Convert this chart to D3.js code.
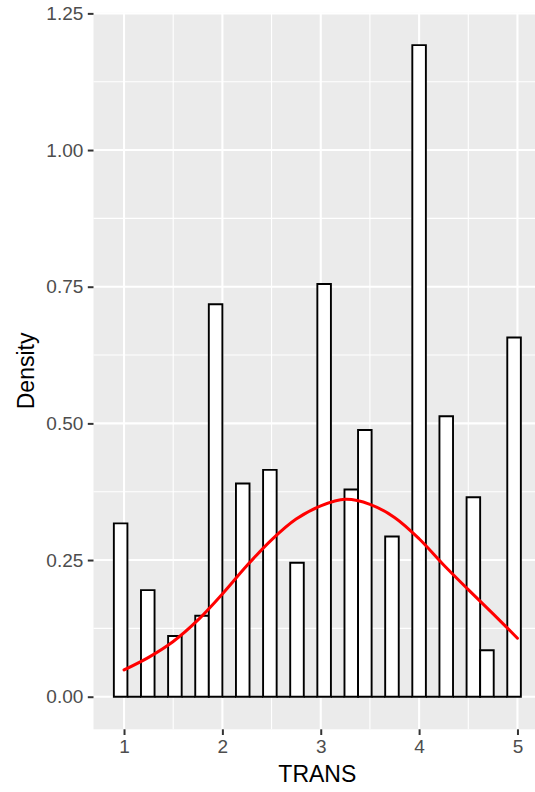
<!DOCTYPE html>
<html>
<head>
<meta charset="utf-8">
<script src="https://cdn.jsdelivr.net/npm/d3@7"></script>
<style>
  html, body { margin: 0; padding: 0; background: #ffffff; }
  svg { display: block; }
  text { font-family: "Liberation Sans", Arial, sans-serif; }
</style>
</head>
<body>
<svg id="chart" width="535" height="792"></svg>
<script>
// Histogram of TRANS (density scale, 30 bins over the data range 1–5)
const dataRange = [1, 5];
const binCount = 30;
const binDensity = [
  0.317, 0, 0.195, 0, 0.111, 0, 0.148, 0.718, 0, 0.390,
  0, 0.415, 0, 0.245, 0, 0.755, 0, 0.379, 0.488, 0,
  0.293, 0, 1.192, 0, 0.513, 0, 0.365, 0.085, 0, 0.657
];

// Kernel density estimate of TRANS
const kdeX = [1.00, 1.25, 1.50, 1.75, 2.00, 2.25, 2.50, 2.75, 3.00, 3.25, 3.50, 3.75, 4.00, 4.25, 4.50, 4.75, 5.00];
const kdeY = [0.049, 0.072, 0.101, 0.140, 0.188, 0.240, 0.287, 0.325, 0.349, 0.361, 0.352, 0.328, 0.289, 0.241, 0.196, 0.152, 0.107];

const xTicks = [1, 2, 3, 4, 5];
const xMinor = [1.5, 2.5, 3.5, 4.5];
const yTicks = [0, 0.25, 0.5, 0.75, 1.0, 1.25];
const yMinor = [0.125, 0.375, 0.625, 0.875, 1.125];

// ggplot-style bin breaks: width = range/(bins-1), boundary at width/2
const binWidth = (dataRange[1] - dataRange[0]) / (binCount - 1);
const boundary = binWidth / 2;
const origin = boundary + Math.floor((dataRange[0] - boundary) / binWidth) * binWidth;
const bins = binDensity.map((d, i) => ({
  x0: origin + i * binWidth,
  x1: origin + (i + 1) * binWidth,
  density: d
}));

const svg = d3.select("#chart");
const panel = { left: 93.5, top: 12.5, right: 541.2, bottom: 729.3 };

// 5% expansion on both axes
const xMin = bins[0].x0, xMax = bins[bins.length - 1].x1;
const xPad = (xMax - xMin) * 0.05;
const yMax = d3.max(binDensity);
const yPad = yMax * 0.05;

const x = d3.scaleLinear().domain([xMin - xPad, xMax + xPad]).range([panel.left, panel.right]);
const y = d3.scaleLinear().domain([-yPad, yMax + yPad]).range([panel.bottom, panel.top]);

// Panel background
svg.append("rect")
  .attr("x", panel.left).attr("y", panel.top)
  .attr("width", panel.right - panel.left).attr("height", panel.bottom - panel.top)
  .attr("fill", "#EBEBEB");

const grid = svg.append("g").attr("stroke", "#FFFFFF").attr("fill", "none");
grid.selectAll(".ymin").data(yMinor).join("line")
  .attr("x1", panel.left).attr("x2", panel.right)
  .attr("y1", d => y(d)).attr("y2", d => y(d)).attr("stroke-width", 1.1);
grid.selectAll(".xmin").data(xMinor).join("line")
  .attr("y1", panel.top).attr("y2", panel.bottom)
  .attr("x1", d => x(d)).attr("x2", d => x(d)).attr("stroke-width", 1.1);
grid.selectAll(".ymaj").data(yTicks).join("line")
  .attr("x1", panel.left).attr("x2", panel.right)
  .attr("y1", d => y(d)).attr("y2", d => y(d)).attr("stroke-width", 2.1);
grid.selectAll(".xmaj").data(xTicks).join("line")
  .attr("y1", panel.top).attr("y2", panel.bottom)
  .attr("x1", d => x(d)).attr("x2", d => x(d)).attr("stroke-width", 2.1);

// Histogram bars as closed paths so empty bins still show their outline
svg.append("g").selectAll("path").data(bins).join("path")
  .attr("d", d => {
    const l = x(d.x0), r = x(d.x1), b = y(0), t = y(d.density);
    return `M${l},${b}L${r},${b}L${r},${t}L${l},${t}Z`;
  })
  .attr("fill", "#FFFFFF")
  .attr("stroke", "#000000")
  .attr("stroke-width", 1.9);

// Density curve
const line = d3.line()
  .x((d, i) => x(kdeX[i]))
  .y(d => y(d))
  .curve(d3.curveCatmullRom);
svg.append("path")
  .datum(kdeY)
  .attr("d", line)
  .attr("fill", "none")
  .attr("stroke", "#FF0000")
  .attr("stroke-width", 3)
  .attr("stroke-linejoin", "round")
  .attr("stroke-linecap", "round");

// Axes
const xAxis = d3.axisBottom(x).tickValues(xTicks).tickSize(5.7).tickPadding(4).tickFormat(d3.format("d"));
const yAxis = d3.axisLeft(y).tickValues(yTicks).tickSize(5.7).tickPadding(4.5).tickFormat(d3.format(".2f"));

const gx = svg.append("g").attr("transform", `translate(0,${panel.bottom})`).call(xAxis);
const gy = svg.append("g").attr("transform", `translate(${panel.left},0)`).call(yAxis);
[gx, gy].forEach(g => {
  g.select(".domain").remove();
  g.selectAll(".tick line").attr("stroke", "#333333").attr("stroke-width", 2);
  g.selectAll(".tick text")
    .attr("fill", "#4D4D4D")
    .style("font-size", "19px")
    .style("font-family", "'Liberation Sans', Arial, sans-serif");
});
gx.selectAll(".tick text").attr("dy", "0.72em");

// Axis titles
svg.append("text")
  .attr("x", (panel.left + panel.right) / 2)
  .attr("y", 782)
  .attr("text-anchor", "middle")
  .attr("fill", "#000000")
  .style("font-size", "23px")
  .text("TRANS");

svg.append("text")
  .attr("transform", `translate(34,${(panel.top + panel.bottom) / 2}) rotate(-90)`)
  .attr("text-anchor", "middle")
  .attr("fill", "#000000")
  .style("font-size", "23px")
  .text("Density");
</script>
</body>
</html>
